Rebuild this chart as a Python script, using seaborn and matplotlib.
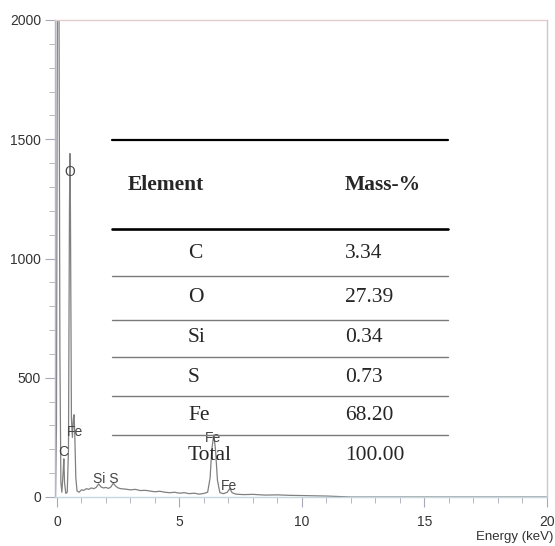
"""
EDS spectrum with composition table overlay
"""

import matplotlib
matplotlib.use("Agg")
import matplotlib.pyplot as plt
from matplotlib.lines import Line2D
from matplotlib.ticker import MultipleLocator
import seaborn as sns
import pandas as pd


## DATA
energy = [-0.06, -0.02, 0.02, 0.08, 0.12, 0.16, 0.20, 0.25, 0.28, 0.31, 0.36, 0.42,
          0.47, 0.51, 0.53, 0.55, 0.59, 0.63, 0.67, 0.70, 0.73, 0.77, 0.82, 0.90,
          1.0, 1.1, 1.2, 1.3, 1.4, 1.5, 1.6, 1.7, 1.8, 1.9, 2.0, 2.1, 2.2, 2.3, 2.4,
          2.5, 2.6, 2.8, 3.0, 3.2, 3.4, 3.6, 3.8, 4.0, 4.2, 4.4, 4.6, 4.8, 5.0, 5.2,
          5.4, 5.6, 5.8, 6.0, 6.15, 6.25, 6.32, 6.40, 6.47, 6.55, 6.65, 6.80, 6.95,
          7.05, 7.15, 7.3, 7.6, 8.0, 8.5, 9.0, 9.5, 10.0, 10.5, 11.0, 11.5, 12.0, 20.0]
counts = [0, 300, 2200, 2200, 600, 60, 20, 100, 160, 60, 15, 20,
          200, 1200, 1440, 1200, 330, 250, 330, 345, 250, 80, 25, 20,
          30, 28, 35, 32, 38, 35, 40, 55, 42, 38, 40, 36, 42, 58, 45,
          38, 35, 33, 30, 32, 27, 28, 25, 22, 24, 20, 18, 20, 16, 18,
          14, 16, 12, 15, 20, 80, 200, 260, 200, 70, 18, 14, 20,
          35, 18, 12, 10, 11, 8, 9, 7, 6, 5, 4, 2, 0, 0]

peak_labels = ["O", "Fe", "C", "Si S", "Fe", "Fe"]
peak_x = [0.53, 0.73, 0.245, 2.0, 6.37, 7.02]
peak_y = [1363, 272, 189, 75, 247, 46]

elements = ["C", "O", "Si", "S", "Fe", "Total"]
mass_pct = ["3.34", "27.39", "0.34", "0.73", "68.20", "100.00"]

W, H = 555, 546


def px(x, y):
    # pixel position -> figure fraction
    return x / W, 1 - y / H


def main():
    sns.set_style("ticks")
    plt.rcParams["font.family"] = ["Liberation Sans", "DejaVu Sans"]

    fig = plt.figure(figsize=(W / 100, H / 100), dpi=100)
    x0, y0 = px(55, 497)
    x1, y1 = px(547, 20)
    ax = fig.add_axes([x0, y0, x1 - x0, y1 - y0])

    df = pd.DataFrame({"energy": energy, "counts": counts})
    sns.lineplot(data=df, x="energy", y="counts", ax=ax, color="#808080", lw=0.9)
    ax.set_xlim(-0.08, 20)
    ax.set_ylim(0, 2000)
    ax.set_xlabel("")
    ax.set_ylabel("")

    ax.xaxis.set_major_locator(MultipleLocator(5))
    ax.xaxis.set_minor_locator(MultipleLocator(1))
    ax.yaxis.set_major_locator(MultipleLocator(500))
    ax.yaxis.set_minor_locator(MultipleLocator(100))
    ax.tick_params(which="major", length=7, width=0.8, color="#a8a8b8",
                   labelsize=10, labelcolor="#333333", pad=3)
    ax.tick_params(axis="x", which="major", pad=6)
    ax.tick_params(which="minor", length=4, width=0.7, color="#b8b8c4")

    for side, c in [("left", "#b4b4cc"), ("top", "#e4cccc"),
                    ("right", "#c8c8d4"), ("bottom", "#c4d8e0")]:
        ax.spines[side].set_visible(True)
        ax.spines[side].set_color(c)
        ax.spines[side].set_linewidth(1.0)

    for lab, lx, ly in zip(peak_labels, peak_x, peak_y):
        ax.text(lx, ly, lab, ha="center", va="center", fontsize=10, color="#444444")

    fig.text(*px(553, 537), "Energy (keV)", ha="right", va="center",
             fontsize=9.5, color="#333333")

    # table overlay
    serif = ["Liberation Serif", "DejaVu Serif"]
    tx0, tx1 = 112 / W, 448 / W
    rules = [(140, 1.6, "black"), (229, 1.9, "black"), (276, 1.0, "#7a7a7a"),
             (320, 1.0, "#7a7a7a"), (357, 1.0, "#7a7a7a"), (396, 1.0, "#7a7a7a"),
             (435, 1.0, "#7a7a7a")]
    for ypix, lw, c in rules:
        yf = 1 - ypix / H
        fig.add_artist(Line2D([tx0, tx1], [yf, yf], lw=lw, color=c))

    fig.text(*px(128, 185), "Element", fontsize=15.5, fontweight="bold",
             family=serif, va="center", ha="left")
    fig.text(*px(345, 185), "Mass-%", fontsize=15.5, fontweight="bold",
             family=serif, va="center", ha="left")
    row_y = [254, 298, 338, 377, 416, 456]
    for el, m, ry in zip(elements, mass_pct, row_y):
        fig.text(*px(188, ry), el, fontsize=15.5, family=serif, va="center", ha="left")
        fig.text(*px(345, ry), m, fontsize=15.5, family=serif, va="center", ha="left")

    fig.savefig("out.png", dpi=100)


if __name__ == "__main__":
    main()
